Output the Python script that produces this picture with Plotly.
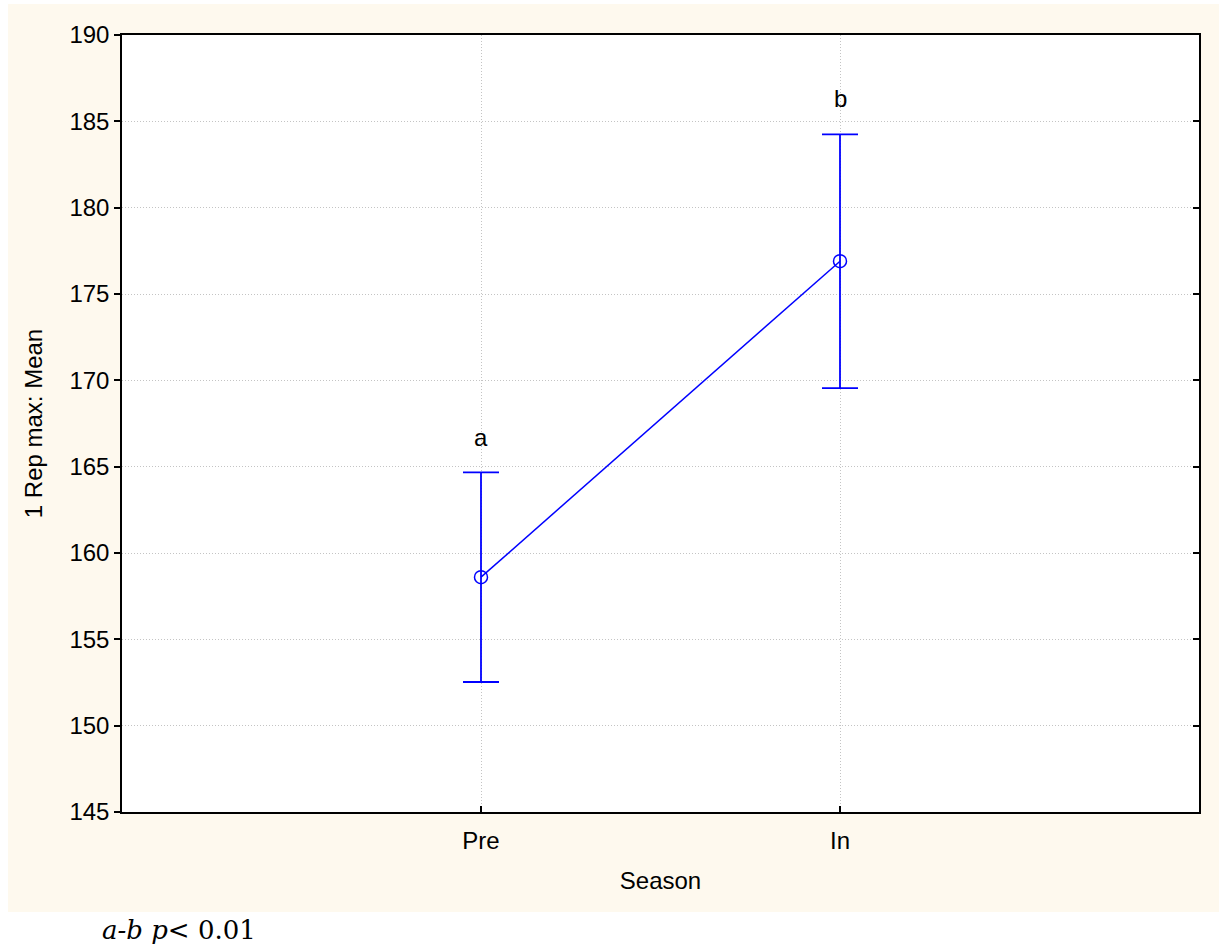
import plotly.graph_objects as go

categories = ["Pre", "In"]
means = [158.6, 176.9]
errors = [6.07, 7.35]
letters = ["a", "b"]
letter_y = [166.7, 186.3]
y_ticks = [145, 150, 155, 160, 165, 170, 175, 180, 185, 190]

BLUE = "#0000FF"
CREAM = "#FEF9EE"
FONT = "Liberation Sans, Arial, sans-serif"
FS = 24

fig = go.Figure()
fig.add_trace(go.Scatter(
    x=[0, 1], y=means, mode="lines+markers",
    line=dict(color=BLUE, width=1.5),
    marker=dict(symbol="circle-open", size=13, color=BLUE, line=dict(width=1.5)),
    error_y=dict(type="data", array=errors, visible=True, color=BLUE, thickness=1.8, width=18),
    showlegend=False,
))
# invisible trace to activate the right-hand axis
fig.add_trace(go.Scatter(x=[0], y=[means[0]], yaxis="y2", mode="markers",
                         marker=dict(opacity=0), showlegend=False, hoverinfo="skip"))

for i, (lt, ly) in enumerate(zip(letters, letter_y)):
    fig.add_annotation(x=i, y=ly, text=lt, showarrow=False,
                       font=dict(family=FONT, size=FS, color="black"))

fig.add_annotation(xref="paper", yref="paper", x=(100 - 122) / 1077, y=(812 - 930) / 777,
                   xanchor="left", yanchor="middle", showarrow=False,
                   text="<i>a-b p</i>< 0.01",
                   font=dict(family="DejaVu Serif, serif", size=26, color="black"))

fig.add_shape(type="rect", xref="paper", yref="paper", layer="below",
              x0=(8 - 122) / 1077, x1=(1230 - 122) / 1077,
              y0=(812 - 912) / 777, y1=(812 - 4) / 777,
              fillcolor=CREAM, line=dict(width=0))
fig.add_shape(type="rect", xref="paper", yref="paper", layer="below",
              x0=0, x1=1, y0=0, y1=1, fillcolor="white", line=dict(width=0))

axis_common = dict(showline=True, linecolor="black", linewidth=1.5,
                   showgrid=True, gridcolor="#c4c4c4", griddash="1px,2px", gridwidth=1,
                   zeroline=False, tickcolor="black", ticklen=6, tickwidth=1.5,
                   tickfont=dict(family=FONT, size=FS, color="black"))

fig.update_layout(
    width=1219, height=948,
    margin=dict(l=122, r=20, t=35, b=136),
    paper_bgcolor="white", plot_bgcolor="white",
    xaxis=dict(**axis_common, range=[-1, 2], tickmode="array", tickvals=[0, 1],
               ticktext=categories, ticks="inside", mirror=True, ticklabelstandoff=6,
               title=dict(text="Season", font=dict(family=FONT, size=FS, color="black"), standoff=20)),
    yaxis=dict(**axis_common, range=[145, 190], tickvals=y_ticks, ticks="outside", mirror=True,
               title=dict(text="1 Rep max: Mean", font=dict(family=FONT, size=FS, color="black"), standoff=20)),
    yaxis2=dict(overlaying="y", side="right", range=[145, 190], tickvals=y_ticks,
                ticks="inside", ticklen=6, tickwidth=1.5, tickcolor="black",
                showticklabels=False, showgrid=False, zeroline=False, showline=False),
)

fig.write_html("out.html", config={"displayModeBar": False},
               post_script="document.body.style.margin='0';")
